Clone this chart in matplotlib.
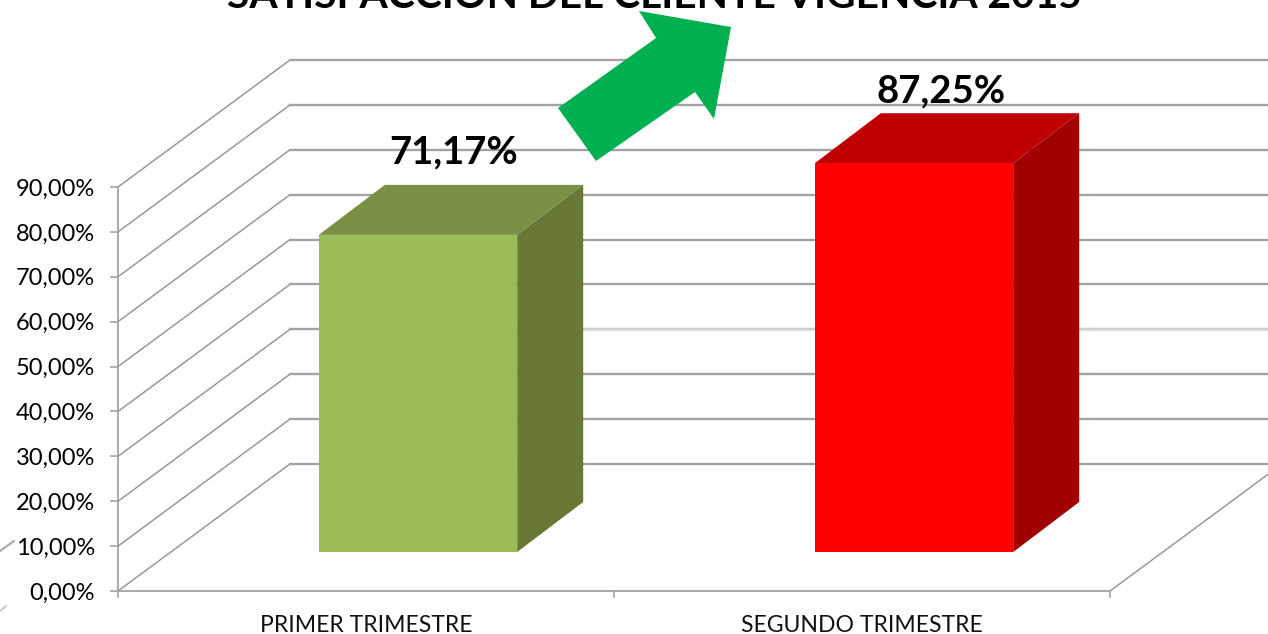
import matplotlib
matplotlib.use("Agg")
import matplotlib.pyplot as plt
from matplotlib.patches import Polygon

plt.rcParams['font.family'] = ['Lato', 'DejaVu Sans']

# data
categories = ["PRIMER TRIMESTRE", "SEGUNDO TRIMESTRE"]
values = [71.17, 87.25]
bar_labels = ["71,17%", "87,25%"]
y_ticks = [0, 10, 20, 30, 40, 50, 60, 70, 80, 90]
y_tick_labels = ["0,00%", "10,00%", "20,00%", "30,00%", "40,00%",
                 "50,00%", "60,00%", "70,00%", "80,00%", "90,00%"]
title = "SATISFACCIÓN DEL CLIENTE VIGENCIA 2015"

W, H = 1268, 634
GREY = '#a3a3a3'
front_colors = ['#9bbb59', '#ff0000']
top_colors = ['#7a9045', '#c00000']
side_colors = ['#677837', '#a00000']

fig = plt.figure(figsize=(W / 100, H / 100), dpi=100, facecolor='white')


def axes_from_pixels(left, bottom, right, top):
    return fig.add_axes([left / W, 1 - bottom / H, (right - left) / W, (bottom - top) / H])


# chart frame, front plane of the 3d box
ax = axes_from_pixels(118, 591, 1110, 187)
ax.set_xlim(0, 2)
ax.set_ylim(0, 90)
ax.patch.set_alpha(0)
unit_x = 992 / 2
unit_y = 404 / 90

# back wall sits this far behind the front plane
wall_dx = 172 / unit_x
wall_dy = 127 / unit_y

for v in y_ticks:
    ax.plot([0, wall_dx], [v, v + wall_dy], color='#989898', lw=1.1, clip_on=False, zorder=1)
    ax.plot([wall_dx, 2.4], [v + wall_dy, v + wall_dy], color=GREY, lw=1.7, clip_on=False, zorder=1)
# the 30% line is washed out in the source image
ax.plot([0.94, 2.4], [30 + wall_dy, 30 + wall_dy], color='#d6d6d6', lw=1.9, clip_on=False, zorder=1.5)
ax.plot([2, 2 + wall_dx], [0, wall_dy], color='#989898', lw=1.1, clip_on=False, zorder=1)

for side in ['top', 'right']:
    ax.spines[side].set_visible(False)
for side in ['left', 'bottom']:
    ax.spines[side].set_color(GREY)
    ax.spines[side].set_linewidth(1.3)

ax.set_yticks(y_ticks)
ax.set_yticklabels(y_tick_labels, fontsize=17, color='black')
ax.tick_params(axis='y', length=5.5, width=1.2, color=GREY, pad=11)
ax.set_xticks([0, 1, 2])
ax.set_xticklabels(['', '', ''])
ax.tick_params(axis='x', which='major', length=5, width=1.2, color=GREY)
ax.set_xticks([0.5, 1.5], minor=True)
ax.set_xticklabels(categories, minor=True, fontsize=16.6, color='#111111')
ax.tick_params(axis='x', which='minor', length=0, pad=17)

# bars stand further in on the floor, so they get their own axes
ax_bars = axes_from_pixels(170, 552, 1162, 552 - 90 * 4.456)
ax_bars.set_xlim(0, 2)
ax_bars.set_ylim(0, 90)
ax_bars.axis('off')
bar_x = [0.5, 1.5]
bar_w = 0.4
depth_dx = 66 / unit_x
depth_dy = 50 / 4.456

ax_bars.bar(bar_x, values, width=bar_w, color=front_colors, zorder=3, clip_on=False)
for i, (x, v) in enumerate(zip(bar_x, values)):
    x0, x1 = x - bar_w / 2, x + bar_w / 2
    ax_bars.add_patch(Polygon([(x0, v), (x1, v), (x1 + depth_dx, v + depth_dy), (x0 + depth_dx, v + depth_dy)],
                              facecolor=top_colors[i], edgecolor='none', clip_on=False, zorder=2))
    ax_bars.add_patch(Polygon([(x1, 0), (x1 + depth_dx, depth_dy), (x1 + depth_dx, v + depth_dy), (x1, v)],
                              facecolor=side_colors[i], edgecolor='none', clip_on=False, zorder=2))

label_dx = [0.072, 0.054]
label_dy = [18.6, 16.0]
for i, (x, v) in enumerate(zip(bar_x, values)):
    ax_bars.text(x + label_dx[i], v + label_dy[i], bar_labels[i], ha='center', va='center',
                 fontsize=27.5, fontweight='bold', color='black', zorder=6, clip_on=False)

# overlay in pixel coordinates for the pasted-on title, arrow and specks
ax_px = fig.add_axes([0, 0, 1, 1])
ax_px.set_xlim(0, W)
ax_px.set_ylim(H, 0)
ax_px.axis('off')

arrow = [(558, 108), (596, 161), (695, 92), (714, 119), (731, 27), (639, 11), (656, 38)]
ax_px.add_patch(Polygon(arrow, closed=True, facecolor='#00b050', edgecolor='none', zorder=5))

ax_px.text(654, 8, title, ha='center', va='baseline', fontsize=29.3, fontweight='bold', color='black', zorder=4)

ax_px.plot([0, 14], [551, 541], color='#8a8a8a', lw=1.6, alpha=0.7, solid_capstyle='round')
ax_px.plot([0, 6], [611, 606], color='#b09aa0', lw=1.4, alpha=0.6, solid_capstyle='round')

fig.savefig("out.png", dpi=100)
